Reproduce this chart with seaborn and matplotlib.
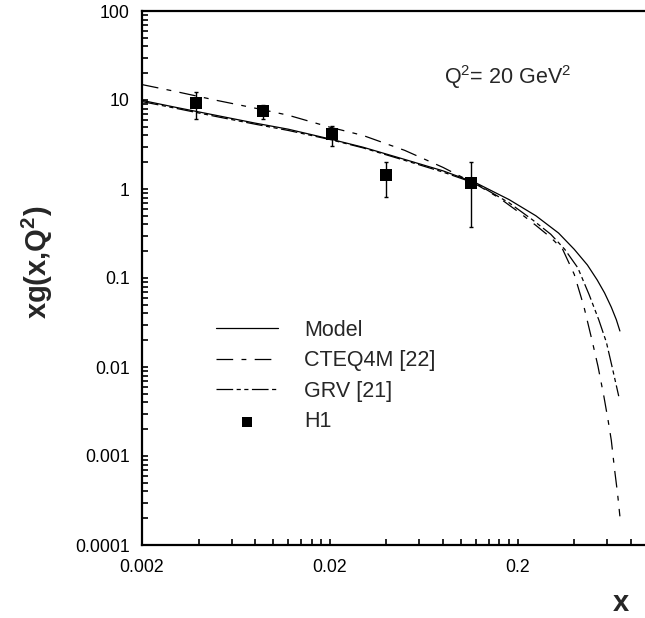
import matplotlib
matplotlib.use("Agg")
import matplotlib.pyplot as plt
import matplotlib.ticker as mticker
import seaborn as sns

# curves
model_x = [0.002, 0.003, 0.005, 0.008, 0.012, 0.02, 0.03, 0.05, 0.08, 0.12,
           0.18, 0.25, 0.33, 0.40, 0.47, 0.53, 0.58, 0.63, 0.67, 0.70]
model_y = [9.9, 8.3, 6.7, 5.5, 4.7, 3.65, 2.95, 2.15, 1.6, 1.17,
           0.76, 0.50, 0.32, 0.21, 0.14, 0.095, 0.068, 0.047, 0.034, 0.0254]

cteq_x = [0.002, 0.003, 0.005, 0.008, 0.012, 0.02, 0.03, 0.05, 0.08, 0.12,
          0.16, 0.205, 0.25, 0.30, 0.347, 0.40, 0.45, 0.50, 0.535, 0.576,
          0.606, 0.63, 0.656, 0.68, 0.70]
cteq_y = [14.9, 12.5, 9.9, 8.1, 6.75, 4.95, 4.0, 2.72, 1.75, 1.13,
          0.79, 0.54, 0.39, 0.285, 0.21, 0.11, 0.048, 0.019, 0.0102, 0.0046,
          0.0025, 0.0015, 0.0007, 0.00038, 0.00021]

grv_x = [0.002, 0.003, 0.005, 0.008, 0.012, 0.02, 0.03, 0.05, 0.08, 0.12,
         0.18, 0.24, 0.30, 0.356, 0.418, 0.48, 0.54, 0.593, 0.64, 0.69]
grv_y = [9.6, 8.1, 6.5, 5.35, 4.55, 3.6, 2.9, 2.1, 1.55, 1.15,
         0.70, 0.45, 0.31, 0.21, 0.13, 0.065, 0.034, 0.019, 0.0095, 0.0047]

# H1 data points
h1_x = [0.0039, 0.0088, 0.0206, 0.040, 0.113]
h1_y = [9.3, 7.6, 4.1, 1.43, 1.17]
h1_lo = [6.15, 6.15, 3.03, 0.82, 0.375]
h1_hi = [12.2, 8.9, 5.07, 2.02, 2.02]

x_major = [0.002, 0.02, 0.2]
y_major = [0.0001, 0.001, 0.01, 0.1, 1, 10, 100]
y_major_labels = ["0.0001", "0.001", "0.01", "0.1", "1", "10", "100"]

sns.set_style("ticks")
plt.rcParams["font.family"] = ["Liberation Sans", "DejaVu Sans"]
plt.rcParams["mathtext.fontset"] = "custom"
plt.rcParams["mathtext.rm"] = "Liberation Sans"
plt.rcParams["mathtext.bf"] = "Liberation Sans:bold"
plt.rcParams["mathtext.it"] = "Liberation Sans:italic"
plt.rcParams["lines.scale_dashes"] = False

fig = plt.figure(figsize=(6.45, 6.18), dpi=100)
ax = fig.add_axes([142 / 645, 73 / 618, 507 / 645, 534 / 618])

sns.lineplot(x=model_x, y=model_y, ax=ax, color="black", lw=0.9,
             label="Model", sort=False)
sns.lineplot(x=cteq_x, y=cteq_y, ax=ax, color="black", lw=0.9,
             label="CTEQ4M [22]", sort=False)
sns.lineplot(x=grv_x, y=grv_y, ax=ax, color="black", lw=0.9,
             label="GRV [21]", sort=False)
ax.lines[1].set_dashes((12, 6, 3.5, 6))
ax.lines[2].set_dashes((12, 2.5, 3, 2.5, 3, 2.5))

err_lo = [y - lo for y, lo in zip(h1_y, h1_lo)]
err_hi = [hi - y for y, hi in zip(h1_y, h1_hi)]
ax.errorbar(h1_x, h1_y, yerr=[err_lo, err_hi], fmt="none", ecolor="black",
            elinewidth=1, capsize=1.5, capthick=1)
sns.scatterplot(x=h1_x, y=h1_y, ax=ax, marker="s", s=64, color="black",
                edgecolor="black", linewidth=0, label="H1", zorder=5)

ax.set_xscale("log")
ax.set_yscale("log")
ax.set_xlim(0.002, 1.0)
ax.set_ylim(0.0001, 100)

ax.xaxis.set_major_locator(mticker.FixedLocator(x_major))
ax.xaxis.set_major_formatter(mticker.FixedFormatter(["0.002", "0.02", "0.2"]))
ax.xaxis.set_minor_locator(mticker.FixedLocator(
    [b * k for b in (0.002, 0.02, 0.2) for k in range(2, 10)]))
ax.xaxis.set_minor_formatter(mticker.NullFormatter())
ax.yaxis.set_major_locator(mticker.FixedLocator(y_major))
ax.yaxis.set_major_formatter(mticker.FixedFormatter(y_major_labels))
ax.yaxis.set_minor_locator(mticker.LogLocator(base=10, subs=range(2, 10), numticks=20))
ax.yaxis.set_minor_formatter(mticker.NullFormatter())

ax.tick_params(which="both", direction="in", length=4, width=1.2,
               color="black", labelsize=12.7, labelcolor="black")
ax.tick_params(axis="x", which="both", pad=10)
ax.tick_params(axis="y", which="both", pad=9)
for side in ("left", "bottom", "top"):
    ax.spines[side].set_linewidth(1.6)
    ax.spines[side].set_color("black")
ax.spines["right"].set_visible(False)

ax.set_xlabel("x", fontsize=21, fontweight="bold")
ax.xaxis.set_label_coords(0.945, -0.083)
ax.set_ylabel(r"xg(x,Q$^\mathbf{2}$)", fontsize=21, fontweight="bold")
ax.yaxis.set_label_coords(-0.172, 0.53)

fig.text(444 / 645, 1 - 77 / 618, r"Q$^2$= 20 GeV$^2$", fontsize=15.5,
         va="center", ha="left")

ax.legend(loc="upper left", bbox_to_anchor=(216 / 645, 1 - 320 / 618),
          bbox_transform=fig.transFigure, frameon=False, fontsize=15.5,
          handlelength=2.9, handletextpad=1.2, labelspacing=0.44,
          borderpad=0, borderaxespad=0, markerscale=0.9)

fig.savefig("out.png", dpi=100)
